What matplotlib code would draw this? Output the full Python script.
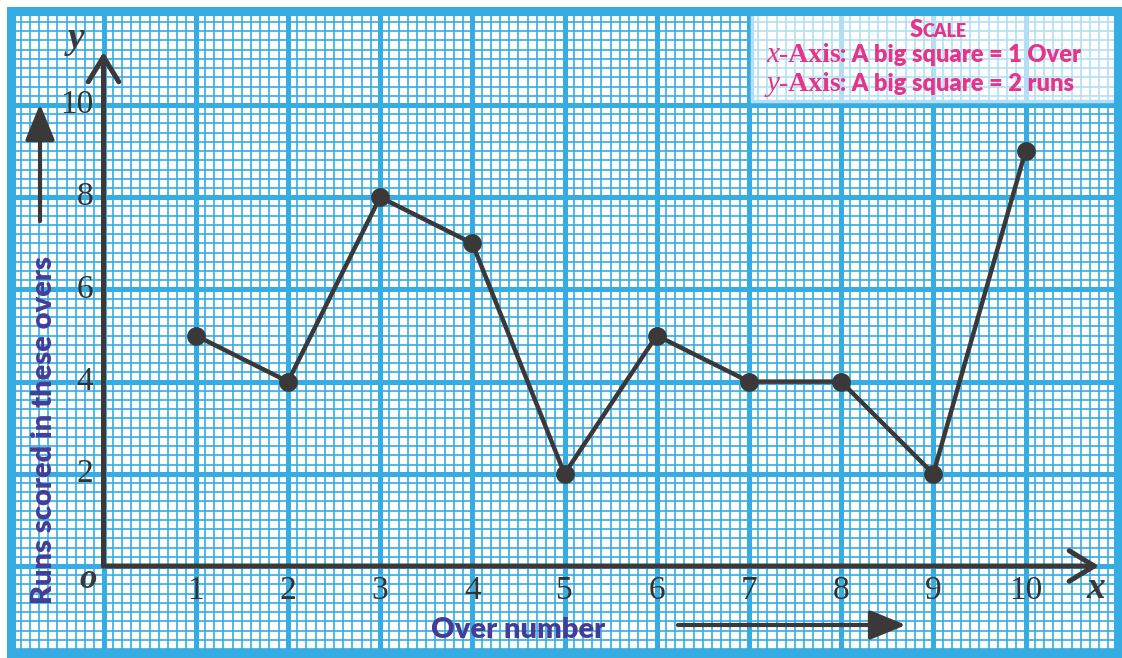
import numpy as np
import matplotlib
matplotlib.use("Agg")
import matplotlib.pyplot as plt
from matplotlib.patches import Rectangle

# data
overs = [1, 2, 3, 4, 5, 6, 7, 8, 9, 10]
runs = [5, 4, 8, 7, 2, 5, 4, 4, 2, 9]
x_ticks = [1, 2, 3, 4, 5, 6, 7, 8, 9, 10]
y_ticks = [2, 4, 6, 8, 10]

BLUE = "#36ade2"
DARK = "#3a3839"
PINK = "#e6338b"
PURPLE = "#443d98"

W, H = 1122, 658
fig = plt.figure(figsize=(W / 100, H / 100), dpi=100)
ax = fig.add_axes([0, 0, 1, 1])
ax.set_axis_off()

# pixel position of origin and size of a big square
ox, oy = 103.5, 566.0
sx, sy = 92.2, 46.1  # px per over, px per run
ax.set_xlim(-ox / sx, (W - ox) / sx)
ax.set_ylim(-(H - oy) / sy, oy / sy)


def px(xp, yp):
    # pixel (from top-left) -> data coords
    return (xp - ox) / sx, (oy - yp) / sy


# paper edges
left, top = px(10.5, 11)
right, bottom = px(1117.5, 652.5)

# graph paper grid
minor_x = np.arange(-0.9, 10.95, 0.1)
minor_y = np.arange(-1.8, 12.0, 0.2)
ax.vlines(minor_x, bottom, top, color=BLUE, lw=1.2, zorder=1)
ax.hlines(minor_y, left, right, color=BLUE, lw=1.2, zorder=1)
ax.vlines(np.arange(0, 11, 1), bottom, top, color=BLUE, lw=3.6, zorder=1)
ax.hlines(np.arange(0, 12, 2), left, right, color=BLUE, lw=3.6, zorder=1)

# scale box
bx0, by0 = px(752, 101)
ax.add_patch(Rectangle((bx0, by0), right - bx0, top - by0, facecolor="white",
                       alpha=0.62, edgecolor="none", zorder=2))
ax.add_patch(Rectangle((bx0, by0), right - bx0, top - by0, facecolor="none",
                       edgecolor="#b3e0f6", lw=2.5, zorder=2))

ax.add_patch(Rectangle((left, bottom), right - left, top - bottom, facecolor="none",
                       edgecolor=BLUE, lw=6.5, zorder=3))

# axes with open arrow heads
ax.annotate("", xy=px(1099, oy), xytext=(0, 0),
            arrowprops=dict(arrowstyle="->,head_length=0.9,head_width=0.55",
                            lw=3.6, color=DARK, mutation_scale=20,
                            shrinkA=0, shrinkB=0), zorder=4)
ax.annotate("", xy=px(ox, 52), xytext=(0, 0),
            arrowprops=dict(arrowstyle="->,head_length=0.9,head_width=0.55",
                            lw=3.6, color=DARK, mutation_scale=20,
                            shrinkA=0, shrinkB=0), zorder=4)

# the data line
ax.plot(overs, runs, color=DARK, lw=3.2, marker="o", ms=12.5, zorder=5)

serif = "Liberation Serif"
for v in x_ticks:
    ax.text(v, px(0, 591)[1], str(v), ha="center", va="center", family=serif,
            fontsize=24, color="#333333", zorder=6)
for v in y_ticks:
    ax.text(px(93, 0)[0], v, str(v), ha="right", va="center", family=serif,
            fontsize=24, color="#333333", zorder=6)

ax.text(*px(88, 580), "o", ha="center", va="center", family=serif, style="italic",
        weight="bold", fontsize=25, color=DARK, zorder=6)
ax.text(*px(76, 38), "y", ha="center", va="center", family=serif, style="italic",
        weight="bold", fontsize=27, color=DARK, zorder=6)
ax.text(*px(1096, 588), "x", ha="center", va="center", family=serif, style="italic",
        weight="bold", fontsize=27, color=DARK, zorder=6)

# axis titles and their arrows
ax.text(*px(44, 430), "Runs scored in these overs", rotation=90, ha="center",
        va="center", family="Lato", weight="heavy", fontsize=21, color=PURPLE, zorder=6)
ax.text(*px(518, 630), "Over number", ha="center", va="center", family="Lato",
        weight="heavy", fontsize=21, color=PURPLE, zorder=6)
ax.annotate("", xy=px(40, 104), xytext=px(40, 221),
            arrowprops=dict(arrowstyle="-|>,head_length=1.1,head_width=0.45",
                            lw=3, color=DARK, mutation_scale=20,
                            shrinkA=0, shrinkB=0), zorder=6)
ax.annotate("", xy=px(906, 625), xytext=px(678, 625),
            arrowprops=dict(arrowstyle="-|>,head_length=1.1,head_width=0.45",
                            lw=3, color=DARK, mutation_scale=20,
                            shrinkA=0, shrinkB=0), zorder=6)

# scale text, pieces in mixed fonts
renderer = fig.canvas.get_renderer()


def run_text(x0, ybase, pieces):
    xcur = x0
    for s, kw in pieces:
        t = fig.text(xcur / W, 1 - ybase / H, s, ha="left", va="baseline",
                     color=PINK, zorder=7, **kw)
        bb = t.get_window_extent(renderer)
        xcur = bb.x1


sans = dict(family="Lato", weight="heavy", fontsize=17)
fig.text(922.5 / W, 1 - 37 / H, "S", ha="right", va="baseline", color=PINK,
         family="Lato", weight="heavy", fontsize=17)
fig.text(922.5 / W, 1 - 37 / H, "CALE", ha="left", va="baseline", color=PINK,
         family="Lato", weight="heavy", fontsize=13)
run_text(766, 62, [("x", dict(family=serif, style="italic", fontsize=21)),
                   ("-Axis", dict(family=serif, weight="bold", fontsize=20)),
                   (": A big square = 1 Over", sans)])
run_text(766, 91, [("y", dict(family=serif, style="italic", fontsize=21)),
                   ("-Axis", dict(family=serif, weight="bold", fontsize=20)),
                   (": A big square = 2 runs", sans)])

fig.savefig("out.png", dpi=100)
